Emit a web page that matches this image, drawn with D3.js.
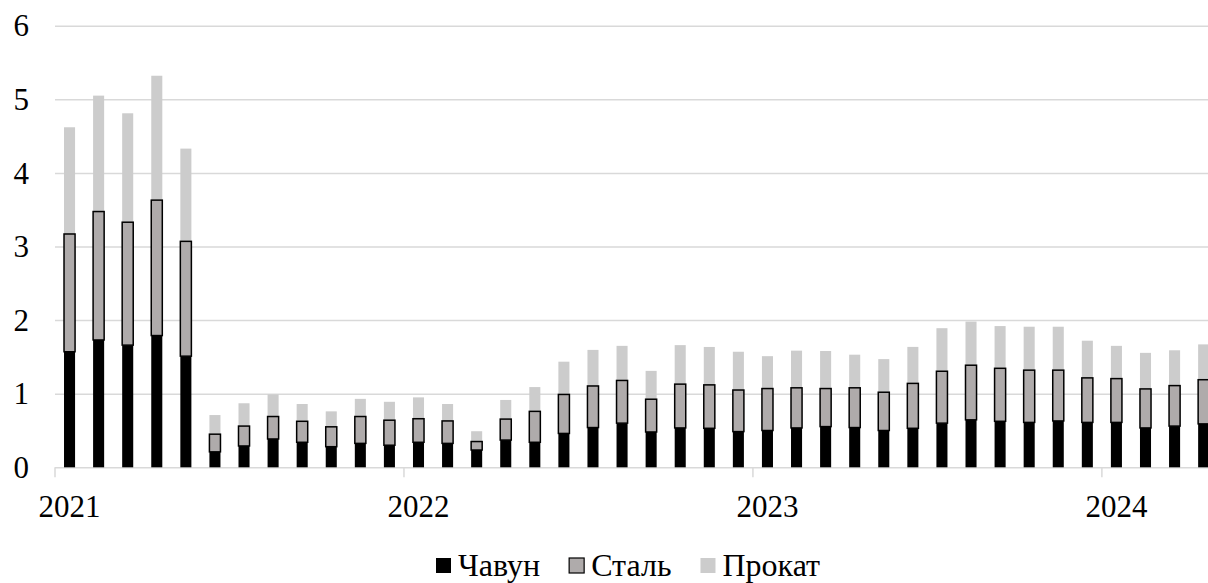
<!DOCTYPE html>
<html>
<head>
<meta charset="utf-8">
<script src="https://cdn.jsdelivr.net/npm/d3@7"></script>
<style>
  body { margin: 0; background: #fff; }
  svg { display: block; }
</style>
</head>
<body>
<svg width="1208" height="583"></svg>
<script>
const width = 1208;
const height = 583;
const font = "'Liberation Serif', 'Times New Roman', serif";

// monthly categories, Jan 2021 .. Apr 2024
const months = d3.timeMonth.range(new Date(2021, 0, 1), new Date(2024, 4, 1));
const yearLabels = ["2021", "2022", "2023", "2024"];
const yTicks = [0, 1, 2, 3, 4, 5, 6];
const seriesNames = ["Чавун", "Сталь", "Прокат"];

const chavun = [1.57, 1.73, 1.66, 1.79, 1.51, 0.21, 0.29, 0.385, 0.34, 0.28, 0.325, 0.30,
  0.34, 0.325, 0.235, 0.37, 0.34, 0.46, 0.54, 0.60, 0.48, 0.535, 0.53, 0.485,
  0.50, 0.535, 0.553, 0.54, 0.50, 0.53, 0.60, 0.645, 0.625, 0.61, 0.63, 0.61,
  0.61, 0.535, 0.56, 0.59];
const stal = [1.60, 1.745, 1.67, 1.84, 1.56, 0.24, 0.27, 0.305, 0.285, 0.27, 0.365, 0.34,
  0.32, 0.305, 0.115, 0.285, 0.42, 0.53, 0.565, 0.58, 0.445, 0.595, 0.59, 0.565,
  0.57, 0.545, 0.517, 0.54, 0.52, 0.61, 0.705, 0.742, 0.72, 0.71, 0.69, 0.605,
  0.595, 0.53, 0.55, 0.60];
const prokat = [1.45, 1.575, 1.48, 1.69, 1.26, 0.26, 0.31, 0.30, 0.235, 0.21, 0.24, 0.25,
  0.29, 0.23, 0.14, 0.26, 0.33, 0.445, 0.49, 0.47, 0.385, 0.53, 0.515, 0.52,
  0.44, 0.505, 0.51, 0.45, 0.45, 0.496, 0.585, 0.593, 0.574, 0.59, 0.59, 0.505,
  0.445, 0.49, 0.48, 0.48];

const colors = { "Чавун": "#000000", "Сталь": "#afabab", "Прокат": "#cccccc" };

const fmt = d3.timeFormat("%Y-%m");
const rows = months.map((m, i) => ({
  key: fmt(m),
  "Чавун": chavun[i],
  "Сталь": stal[i],
  "Прокат": prokat[i],
}));

const svg = d3.select("svg");

const left = 55;
const step = 29.08;
const x = d3
  .scaleBand()
  .domain(rows.map((d) => d.key))
  .range([left, left + rows.length * step])
  .paddingInner(0.62)
  .paddingOuter(0.31);

const y = d3.scaleLinear().domain([0, 6]).range([467.3, 25.7]);

// grid + y labels
const yAxis = svg
  .append("g")
  .attr("transform", `translate(${left},0)`)
  .call(
    d3.axisLeft(y)
      .tickValues(yTicks)
      .tickFormat(d3.format("d"))
      .tickSizeInner(-(width - left + 20))
      .tickSizeOuter(0)
  )
  .attr("font-family", font)
  .attr("font-size", 31);
yAxis.select(".domain").remove();
yAxis.selectAll(".tick line").attr("stroke", "#d9d9d9").attr("stroke-width", 1.5);
yAxis
  .selectAll(".tick text")
  .attr("x", -26)
  .attr("dy", "0.33em")
  .attr("fill", "#000");

// x axis: year ticks at the start of January, labels centred on January
const janKeys = rows.filter((d) => d.key.endsWith("-01")).map((d) => d.key);
const half = (x.step() - x.bandwidth()) / 2;
const xAxis = svg
  .append("g")
  .attr("transform", `translate(0,${y(0)})`)
  .call(
    d3.axisBottom(x)
      .tickValues(janKeys)
      .tickFormat((d, i) => yearLabels[i])
      .tickSize(0)
  )
  .attr("font-family", font)
  .attr("font-size", 31);
xAxis.select(".domain").remove();
xAxis
  .selectAll(".tick text")
  .attr("y", 49.5)
  .attr("dy", 0)
  .attr("fill", "#000");
xAxis
  .selectAll(".tick")
  .append("line")
  .attr("x1", -x.bandwidth() / 2 - half)
  .attr("x2", -x.bandwidth() / 2 - half)
  .attr("y1", 0)
  .attr("y2", 10)
  .attr("stroke", "#d9d9d9")
  .attr("stroke-width", 1.5);

// stacked bars
const stacked = d3.stack().keys(seriesNames)(rows);
const drawOrder = [stacked[0], stacked[2], stacked[1]];

svg
  .append("g")
  .selectAll("g")
  .data(drawOrder)
  .enter()
  .append("g")
  .attr("fill", (s) => colors[s.key])
  .attr("stroke", (s) => (s.key === "Сталь" ? "#000" : "none"))
  .attr("stroke-width", 1.5)
  .selectAll("rect")
  .data((s) => s)
  .enter()
  .append("rect")
  .attr("x", (d) => x(d.data.key))
  .attr("width", x.bandwidth())
  .attr("y", (d) => y(d[1]))
  .attr("height", (d) => y(d[0]) - y(d[1]));

// legend
const legend = svg.append("g").attr("font-family", font).attr("font-size", 32);
let lx = 436;
seriesNames.forEach((name) => {
  legend
    .append("rect")
    .attr("x", lx)
    .attr("y", 558)
    .attr("width", 15)
    .attr("height", 15)
    .attr("fill", colors[name])
    .attr("stroke", name === "Сталь" ? "#000" : "none")
    .attr("stroke-width", 1.2);
  const t = legend
    .append("text")
    .attr("x", lx + 22)
    .attr("y", 576)
    .text(name);
  lx = lx + 22 + t.node().getComputedTextLength() + 29;
});
</script>
</body>
</html>
